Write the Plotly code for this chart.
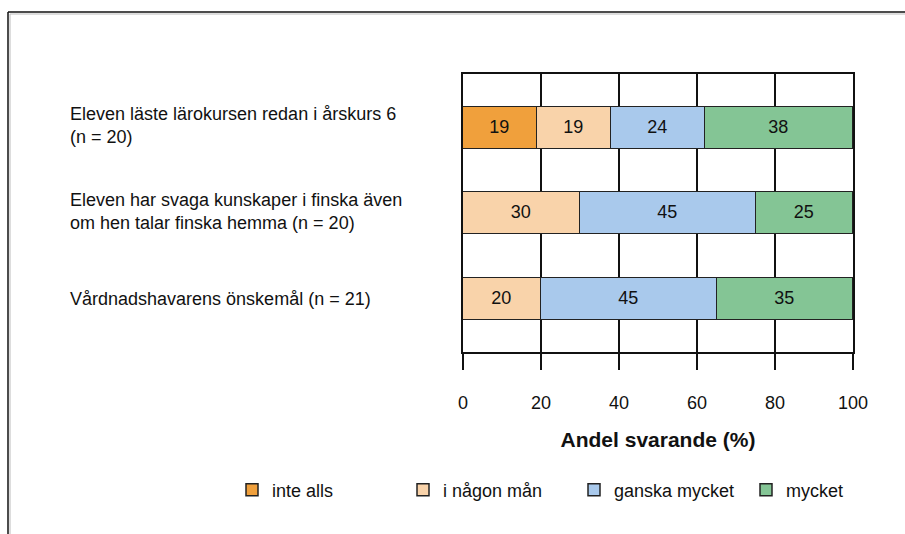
import plotly.graph_objects as go

# Survey items (top to bottom) and response shares in percent
items = [
    "Eleven läste lärokursen redan i årskurs 6<br>(n = 20)",
    "Eleven har svaga kunskaper i finska även<br>om hen talar finska hemma (n = 20)",
    "Vårdnadshavarens önskemål (n = 21)",
]
categories = ["inte alls", "i någon mån", "ganska mycket", "mycket"]
inte_alls = [19, 0, 0]
i_nagon_man = [19, 30, 20]
ganska_mycket = [24, 45, 45]
mycket = [38, 25, 35]
x_ticks = [0, 20, 40, 60, 80, 100]

series = [inte_alls, i_nagon_man, ganska_mycket, mycket]
colors = ["#F0A03C", "#F9D3AA", "#A9C9EC", "#84C595"]
# the last entry sits in its own legend box so the row is not pushed left
legend_ids = ["legend", "legend", "legend", "legend2"]

FONT = "Liberation Sans, Arial, sans-serif"
FS = 18

# Plot area geometry in pixels
W, H = 905, 534
L, R, T, B = 463, 52, 74, 182
PW, PH = W - L - R, H - T - B

def px_x(px):
    return (px - L) / PW

def px_y(py):
    return (H - B - py) / PH

y_pos = list(range(len(items)))

fig = go.Figure()
for name, vals, col, lg in zip(categories, series, colors, legend_ids):
    fig.add_trace(go.Bar(
        y=y_pos,
        x=vals,
        name=name,
        legend=lg,
        orientation="h",
        width=0.49,
        marker=dict(color=col, line=dict(color="#222222", width=1.5)),
        text=[str(v) if v else "" for v in vals],
        textposition="inside",
        insidetextanchor="middle",
        textangle=0,
        textfont=dict(family=FONT, size=FS, color="#111111"),
        constraintext="none",
        hoverinfo="skip",
    ))

# Item labels, left aligned beside the bars
for i, label in enumerate(items):
    fig.add_annotation(
        x=px_x(68), xref="paper", xanchor="left",
        y=i, yref="y", yanchor="middle",
        yshift=2 if "<br>" in label else 0,
        text=label, align="left", showarrow=False,
        font=dict(family=FONT, size=FS, color="#111111"),
    )

# Outer frame lines (top and left) with faint shadow
shapes = [
    dict(type="line", xref="paper", yref="paper",
         x0=px_x(8), x1=px_x(905), y0=px_y(12), y1=px_y(12),
         line=dict(color="#111111", width=1.5)),
    dict(type="line", xref="paper", yref="paper",
         x0=px_x(8), x1=px_x(8), y0=px_y(12), y1=px_y(534),
         line=dict(color="#111111", width=1.5)),
    dict(type="line", xref="paper", yref="paper",
         x0=px_x(10), x1=px_x(905), y0=px_y(14), y1=px_y(14),
         line=dict(color="#BBBBBB", width=1)),
    dict(type="line", xref="paper", yref="paper",
         x0=px_x(10), x1=px_x(10), y0=px_y(14), y1=px_y(534),
         line=dict(color="#BBBBBB", width=1)),
]

legend_common = dict(
    orientation="h",
    yanchor="middle", y=px_y(490),
    xanchor="left",
    font=dict(family=FONT, size=FS, color="#111111"),
    traceorder="normal",
    bgcolor="rgba(0,0,0,0)",
)

fig.update_layout(
    width=W, height=H,
    margin=dict(l=L, r=R, t=T, b=B, pad=0),
    paper_bgcolor="white", plot_bgcolor="white",
    barmode="stack",
    bargap=0,
    shapes=shapes,
    showlegend=True,
    legend=dict(legend_common, x=px_x(232),
                entrywidth=126, entrywidthmode="pixels"),
    legend2=dict(legend_common, x=px_x(746)),
    xaxis=dict(
        range=[0, 100],
        tickvals=x_ticks,
        ticktext=[str(t) for t in x_ticks],
        showgrid=True, gridcolor="#111111", gridwidth=2,
        showline=True, linecolor="#111111", linewidth=2, mirror=True,
        ticks="outside", ticklen=16, tickwidth=2, tickcolor="#111111",
        ticklabelstandoff=17,
        tickfont=dict(family=FONT, size=FS, color="#111111"),
        zeroline=False,
        title=dict(text="<b>Andel svarande (%)</b>",
                   font=dict(family=FONT, size=21, color="#111111"),
                   standoff=21),
        fixedrange=True,
    ),
    yaxis=dict(
        range=[len(items) - 1 + 0.62, -0.63],
        showticklabels=False, ticks="",
        showgrid=False, zeroline=False,
        showline=True, linecolor="#111111", linewidth=2, mirror=True,
        fixedrange=True,
    ),
)

fig.write_html("out.html")
